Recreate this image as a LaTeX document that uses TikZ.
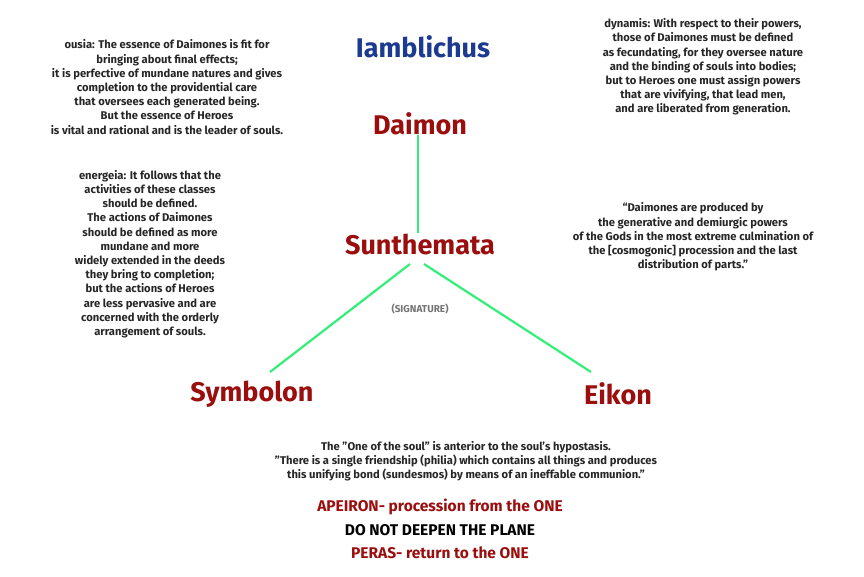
\documentclass[tikz,border=0pt]{standalone}
\usepackage{fontspec}
\setmainfont{Fira Sans}
\begin{document}
\begin{tikzpicture}[x=1pt,y=-1pt,
  small/.style={font=\bfseries\fontsize{11.2}{14.2}\selectfont,align=center,inner sep=0,text=black!85},
  big/.style={font=\bfseries\fontsize{27}{30}\selectfont,text=dred,inner sep=0},
  mid/.style={font=\bfseries\fontsize{15.5}{17}\selectfont,inner sep=0},
  conn/.style={draw=lgreen,line width=2.2pt}]
\definecolor{dred}{HTML}{9B0E0E}
\definecolor{dblue}{HTML}{1C3A8F}
\definecolor{lgreen}{HTML}{33EE77}
\useasboundingbox (0,0) rectangle (864,576);
\node[big,text=dblue] (iam) at (423,47) {Iamblichus};
\node[big] (dai) at (420,124) {Daimon};
\node[big] (sun) at (420,244) {Sunthemata};
\node[small,text=black!55,font=\bfseries\fontsize{10}{11}\selectfont] (sig) at (420,309) {(SIGNATURE)};
\node[big] (sym) at (252,394) {Symbolon};
\node[big] (eik) at (618,394) {Eikon};
\draw[conn] (dai.south -| 418,0) -- (sun.north -| 418,0);
\draw[conn] (410,264) -- (270,372);
\draw[conn] (424,264) -- (591,372);
\node[small] (ousia) at (167,87) {ousia: The essence of Daimones is fit for\\bringing about final effects;\\it is perfective of mundane natures and gives\\completion to the providential care\\that oversees each generated being.\\But the essence of Heroes\\is vital and rational and is the leader of souls.};
\node[small] (dyn) at (703,67) {dynamis: With respect to their powers,\\those of Daimones must be defined\\as fecundating, for they oversee nature\\and the binding of souls into bodies;\\but to Heroes one must assign powers\\that are vivifying, that lead men,\\and are liberated from generation.};
\node[small] (ene) at (150,254) {energeia: It follows that the\\activities of these classes\\should be defined.\\The actions of Daimones\\should be defined as more\\mundane and more\\widely extended in the deeds\\they bring to completion;\\but the actions of Heroes\\are less pervasive and are\\concerned with the orderly\\arrangement of souls.};
\node[small] (quo) at (693,237) {``Daimones are produced by\\the generative and demiurgic powers\\of the Gods in the most extreme culmination of\\the [cosmogonic] procession and the last\\distribution of parts."};
\node[small] (one) at (466,461) {The "One of the soul" is anterior to the soul's hypostasis.\\"There is a single friendship (philia) which contains all things and produces\\this unifying bond (sundesmos) by means of an ineffable communion."};
\node[mid,text=dred] (ape) at (440,507) {APEIRON- procession from the ONE};
\node[mid,text=black] (dnd) at (440,530) {DO NOT DEEPEN THE PLANE};
\node[mid,text=dred] (per) at (440,553) {PERAS- return to the ONE};
\end{tikzpicture}
\end{document}
